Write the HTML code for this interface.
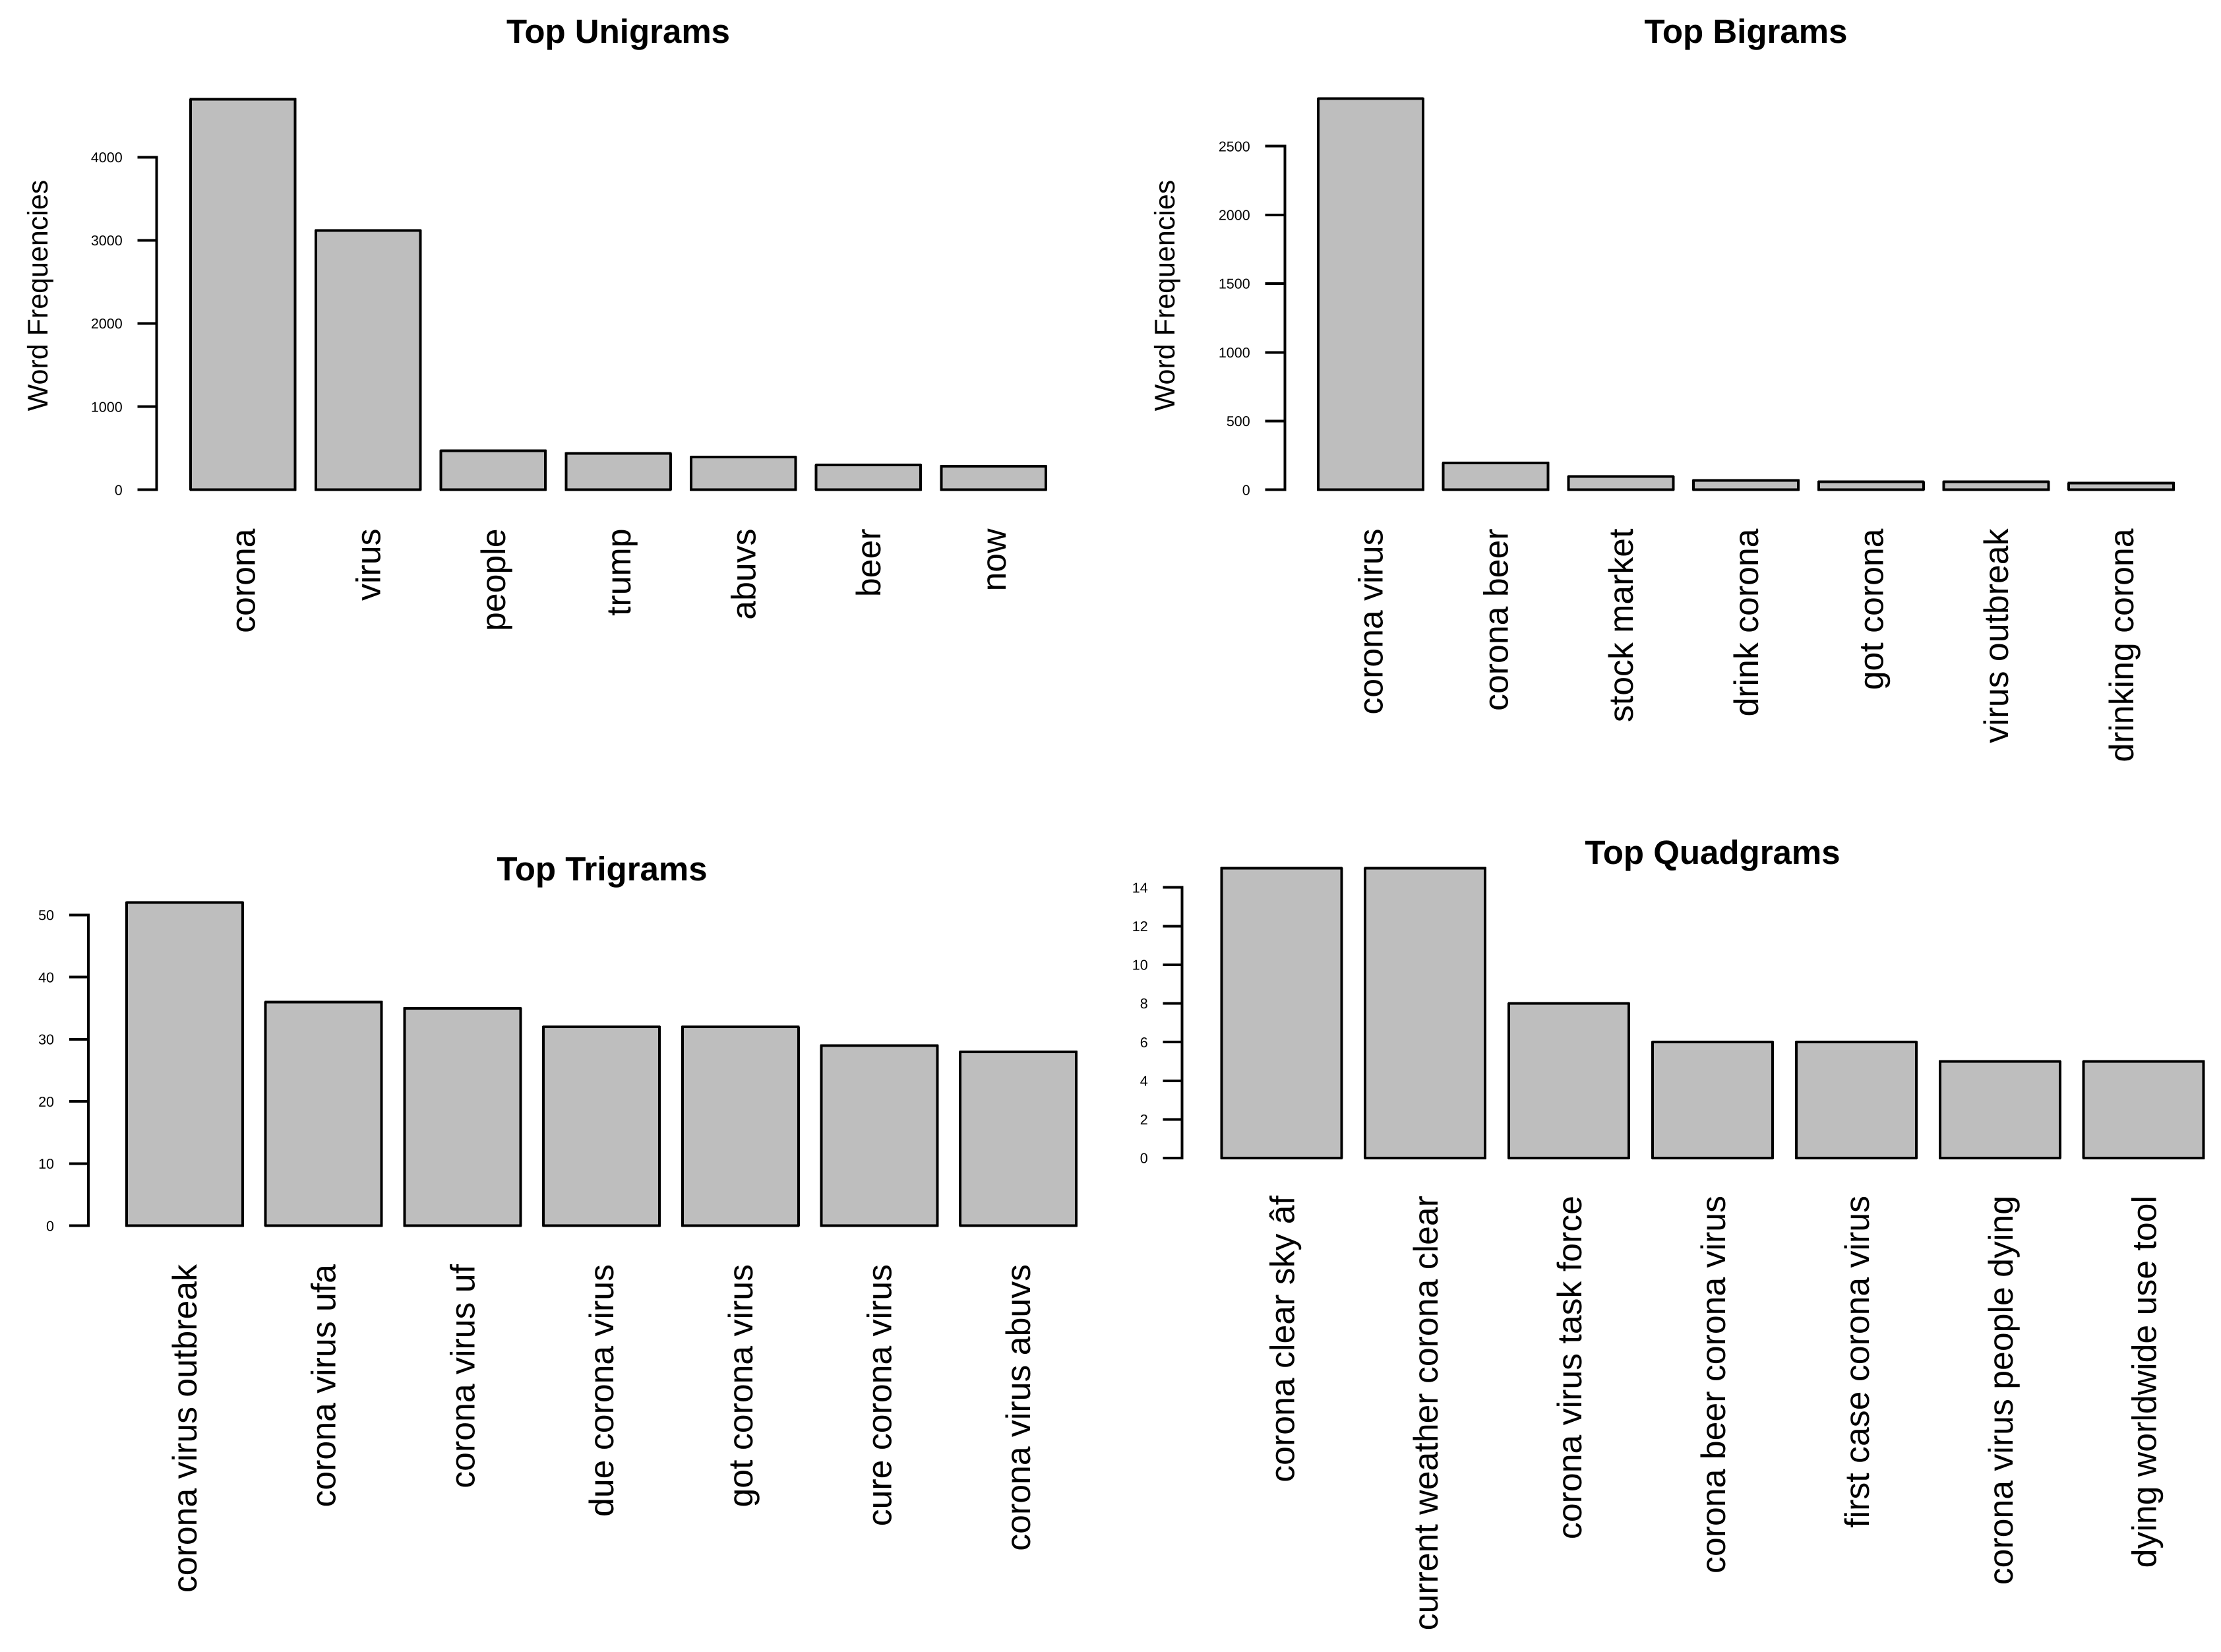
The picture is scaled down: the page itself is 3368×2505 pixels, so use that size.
<!DOCTYPE html>
<html lang="en">
<head>
<meta charset="utf-8">
<title>Top N-grams</title>
<style>
html,body{margin:0;padding:0;background:#fff;}
svg{display:block;font-family:"Liberation Sans",Arial,sans-serif;text-rendering:geometricPrecision;}
.bar{fill:#bebebe;stroke:#000;stroke-width:4;stroke-linejoin:round;shape-rendering:crispEdges;}
.axis{stroke:#000;stroke-width:4;stroke-linecap:square;fill:none;shape-rendering:crispEdges;}
.tick-text{font-size:21.5px;text-anchor:end;fill:#000;}
.cat{font-size:51.8px;text-anchor:end;fill:#000;}
.title{font-size:51px;font-weight:bold;text-anchor:middle;fill:#000;}
.ylab{font-size:43px;text-anchor:middle;fill:#000;}
</style>
</head>
<body>
<svg id="chart" xmlns="http://www.w3.org/2000/svg" width="3368" height="2505" viewBox="0 0 3368 2505">
<rect width="3368" height="2505" fill="#fff"/>
</svg>
<script>
const unigramCategories = ["corona","virus","people","trump","abuvs","beer","now"];
const unigramValues = [4698,3118,470,437,393,298,285];
const unigramTicks = [0,1000,2000,3000,4000];
const unigramTickLabels = ["0","1000","2000","3000","4000"];

const bigramCategories = ["corona virus","corona beer","stock market","drink corona","got corona","virus outbreak","drinking corona"];
const bigramValues = [2845,196,96,69,58,58,50];
const bigramTicks = [0,500,1000,1500,2000,2500];
const bigramTickLabels = ["0","500","1000","1500","2000","2500"];

const trigramCategories = ["corona virus outbreak","corona virus ufa","corona virus uf","due corona virus","got corona virus","cure corona virus","corona virus abuvs"];
const trigramValues = [52,36,35,32,32,29,28];
const trigramTicks = [0,10,20,30,40,50];
const trigramTickLabels = ["0","10","20","30","40","50"];

const quadgramCategories = ["corona clear sky âf","current weather corona clear","corona virus task force","corona beer corona virus","first case corona virus","corona virus people dying","dying worldwide use tool"];
const quadgramValues = [15,15,8,6,6,5,5];
const quadgramTicks = [0,2,4,6,8,10,12,14];
const quadgramTickLabels = ["0","2","4","6","8","10","12","14"];

const NS = "http://www.w3.org/2000/svg";
const root = document.getElementById("chart");

function make(tag, parent, cls, attrs) {
  const el = document.createElementNS(NS, tag);
  if (cls) el.setAttribute("class", cls);
  for (const k in attrs) el.setAttribute(k, attrs[k]);
  parent.appendChild(el);
  return el;
}

function drawPanel(key, titleText, categories, values, ticks, tickLabels, L) {
  const yScale = v => L.y0 - (v - ticks[0]) * (L.yTop - L.y0) / (ticks[0] - ticks[ticks.length - 1]);
  const xLeft = i => L.barLeft + i * L.pitch;

  const g = make("g", root, null, {});
  
  

  const title = make("text", g, "title", {x: L.titleX, y: L.titleY});
  
  
  title.textContent = titleText;

  if (L.yLabX) {
    const yl = make("text", g, "ylab", {transform: "translate(" + L.yLabX + "," + L.yLabY + ") rotate(-90)"});
    
    
    yl.textContent = "Word Frequencies";
  }

  const axisLine = make("line", g, "axis", {
    x1: L.axisX, x2: L.axisX,
    y1: yScale(ticks[0]), y2: yScale(ticks[ticks.length - 1])
  });
  
  

  ticks.forEach((t, i) => {
    const y = yScale(t);
    const tick = make("line", g, "axis", {x1: L.axisX - L.tickLen, x2: L.axisX, y1: y, y2: y});
    
    
    const label = make("text", g, "tick-text", {x: L.axisX - L.tickLen - 25, y: y + 7.7});
    
    
    label.textContent = tickLabels[i];
  });

  values.forEach((v, i) => {
    const bar = make("rect", g, "bar", {
      x: xLeft(i), y: yScale(v), width: L.barW, height: L.y0 - yScale(v)
    });
    
    

    const bx = xLeft(i) + L.barW / 2 + L.labelOffset;
    const cat = make("text", g, "cat", {transform: "translate(" + bx + "," + L.labelTop + ") rotate(-90)"});
    
    
    cat.textContent = categories[i];
  });
}

drawPanel("unigrams", "Top Unigrams", unigramCategories, unigramValues, unigramTicks, unigramTickLabels,
  {y0: 742.7, yTop: 238.3, axisX: 237.7, tickLen: 27, barLeft: 289.2, pitch: 189.7, barW: 158.5, labelTop: 801.5, labelOffset: 18.2, titleX: 937.5, titleY: 65, yLabX: 72, yLabY: 448});

drawPanel("bigrams", "Top Bigrams", bigramCategories, bigramValues, bigramTicks, bigramTickLabels,
  {y0: 742.7, yTop: 221.6, axisX: 1948.3, tickLen: 27.6, barLeft: 1999, pitch: 189.7, barW: 159, labelTop: 801.5, labelOffset: 18.2, titleX: 2647.5, titleY: 65, yLabX: 1781, yLabY: 448});

drawPanel("trigrams", "Top Trigrams", trigramCategories, trigramValues, trigramTicks, trigramTickLabels,
  {y0: 1858.7, yTop: 1387.5, axisX: 134, tickLen: 27, barLeft: 192, pitch: 210.7, barW: 176, labelTop: 1917, labelOffset: 18, titleX: 913, titleY: 1335});

drawPanel("quadgrams", "Top Quadgrams", quadgramCategories, quadgramValues, quadgramTicks, quadgramTickLabels,
  {y0: 1756, yTop: 1345.7, axisX: 1792.7, tickLen: 27, barLeft: 1852.3, pitch: 217.9, barW: 182, labelTop: 1813, labelOffset: 19, titleX: 2597, titleY: 1310});
</script>
</body>
</html>
